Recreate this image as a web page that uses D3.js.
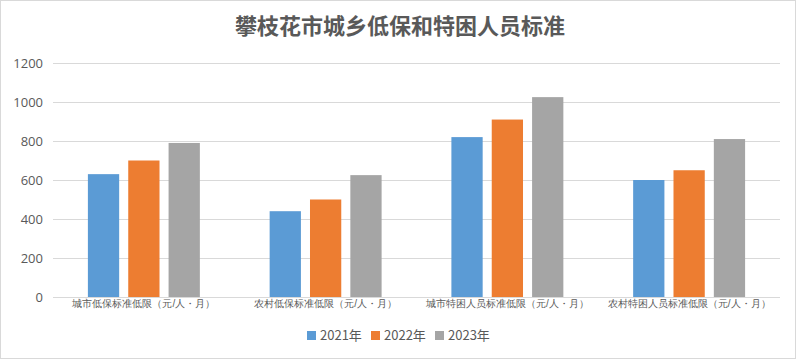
<!DOCTYPE html>
<html>
<head>
<meta charset="utf-8">
<script src="https://cdn.jsdelivr.net/npm/d3@7"></script>
<style>
  body { margin: 0; background: #fff; }
  svg { display: block; font-family: "Noto Sans CJK SC", "Noto Sans", sans-serif; }
</style>
</head>
<body>
<svg id="chart" width="800" height="360"></svg>
<script>
// data
var categories = ['城市低保标准低限（元/人・月）', '农村低保标准低限（元/人・月）', '城市特困人员标准低限（元/人・月）', '农村特困人员标准低限（元/人・月）'];
var seriesNames = ['2021年', '2022年', '2023年'];
var values2021 = [630, 440, 820, 600];
var values2022 = [700, 500, 910, 650];
var values2023 = [790, 625, 1025, 810];
var yTicks = [0, 200, 400, 600, 800, 1000, 1200];
var colors = ['#5b9bd5', '#ed7d31', '#a5a5a5'];

var series = [values2021, values2022, values2023];

var svg = d3.select('#chart');
var margin = {left: 53, right: 20, top: 63, bottom: 63};

// border
svg.append('rect')
	.attr('x', 0.5).attr('y', 0.5)
	.attr('width', 795).attr('height', 358)
	.attr('fill', '#fff')
	.attr('stroke', '#d9d9d9');

// title
svg.append('text')
	.attr('x', 400).attr('y', 34)
	.attr('text-anchor', 'middle')
	.style('font-size', '22px')
	.style('font-weight', 'bold')
	.style('fill', '#595959')
	.text('攀枝花市城乡低保和特困人员标准');

var x0 = d3.scaleBand()
	.domain(categories)
	.range([margin.left, 780])
	.paddingInner(0.384)
	.paddingOuter(0.192);

var x1 = d3.scaleBand()
	.domain(seriesNames)
	.range([0, x0.bandwidth()])
	.paddingInner(0.225);

var y = d3.scaleLinear()
	.domain([0, 1200])
	.range([297, 63]);

// gridlines
svg.append('g').selectAll('line')
	.data(yTicks.slice(1))
	.enter().append('line')
	.attr('x1', margin.left).attr('x2', 780)
	.attr('y1', function (d) { return Math.round(y(d)) + 0.5; })
	.attr('y2', function (d) { return Math.round(y(d)) + 0.5; })
	.attr('stroke', '#d9d9d9')
	.attr('stroke-width', 1);

// y axis labels
var yAxis = d3.axisLeft(y).tickValues(yTicks).tickFormat(d3.format('d')).tickSize(0).tickPadding(10);
var gy = svg.append('g').attr('transform', 'translate(' + margin.left + ',0)').call(yAxis);
gy.select('.domain').remove();
gy.selectAll('text')
	.style('font-size', '13px')
	.style('fill', '#595959')
	.style('font-family', '"Open Sans", "Noto Sans", sans-serif');

// bars
var groups = svg.append('g').selectAll('g')
	.data(categories)
	.enter().append('g')
	.attr('transform', function (d) { return 'translate(' + x0(d) + ',0)'; });

groups.selectAll('rect')
	.data(function (d, i) {
		return seriesNames.map(function (s, j) { return {name: s, value: series[j][i], color: colors[j]}; });
	})
	.enter().append('rect')
	.attr('x', function (d) { return x1(d.name); })
	.attr('width', x1.bandwidth())
	.attr('y', function (d) { return y(d.value); })
	.attr('height', function (d) { return y(0) - y(d.value); })
	.attr('fill', function (d) { return d.color; });

// x axis
var xAxis = d3.axisBottom(x0).tickSize(0).tickPadding(3);
var gx = svg.append('g').attr('transform', 'translate(0,' + Math.round(y(0)) + ')').call(xAxis);
gx.select('.domain').attr('stroke', '#d9d9d9').attr('d', 'M' + margin.left + ',0.5H780');
gx.selectAll('text')
	.style('font-size', '10px')
	.style('fill', '#595959');

// legend
var legendX = [307, 371, 435];
var legend = svg.append('g').selectAll('g')
	.data(seriesNames)
	.enter().append('g')
	.attr('transform', function (d, i) { return 'translate(' + legendX[i] + ',331)'; });
legend.append('rect')
	.attr('width', 9).attr('height', 9)
	.attr('fill', function (d, i) { return colors[i]; });
legend.append('text')
	.attr('x', 13).attr('y', 9)
	.style('font-size', '13px')
	.style('fill', '#595959')
	.text(function (d) { return d; });
</script>
</body>
</html>
